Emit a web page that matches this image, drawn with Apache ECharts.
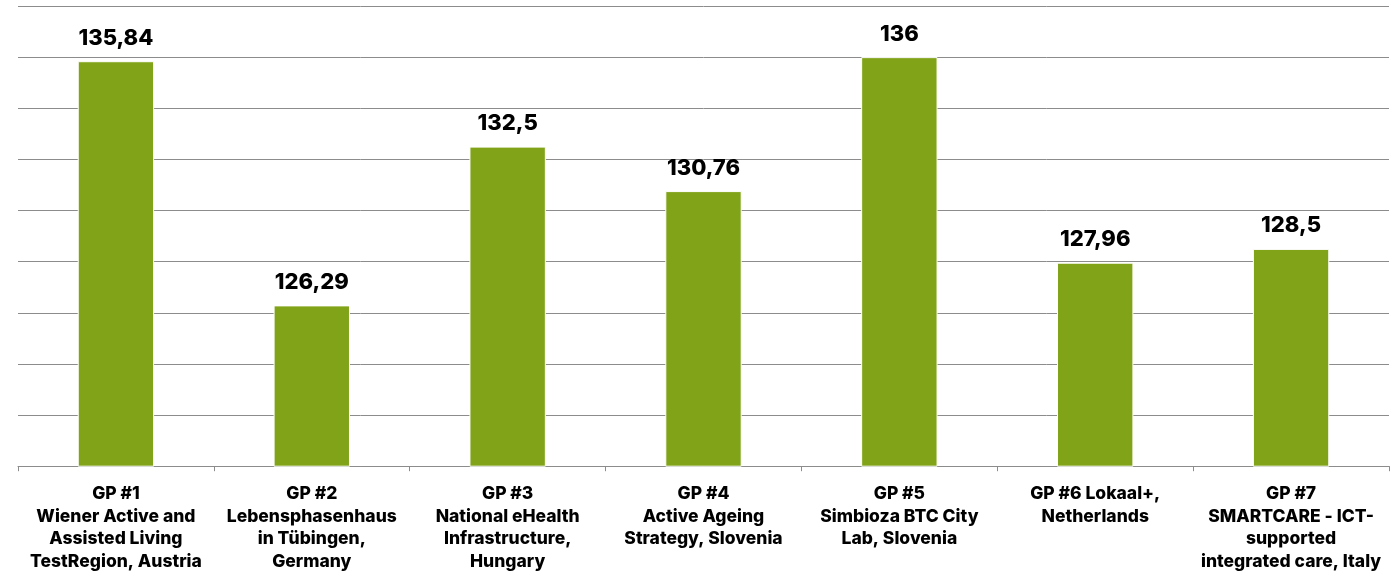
<!DOCTYPE html>
<html>
<head>
<meta charset="utf-8">
<script src="https://cdn.jsdelivr.net/npm/echarts@6/dist/echarts.min.js"></script>
<style>
  html, body { margin: 0; padding: 0; background: #fff; }
  #chart { width: 1393px; height: 573px; }
</style>
</head>
<body>
<div id="chart"></div>
<script>
// categories (line breaks as in the original)
var categories = [
  'GP #1\nWiener Active and\nAssisted Living\nTestRegion, Austria',
  'GP #2\nLebensphasenhaus\nin Tübingen,\nGermany',
  'GP #3\nNational eHealth\nInfrastructure,\nHungary',
  'GP #4\nActive Ageing\nStrategy, Slovenia',
  'GP #5\nSimbioza BTC City\nLab, Slovenia',
  'GP #6 Lokaal+,\nNetherlands',
  'GP #7\nSMARTCARE - ICT-\nsupported\nintegrated care, Italy'
];
var values = [135.84, 126.29, 132.5, 130.76, 136, 127.96, 128.5];
var yMin = 120;
var yMax = 138;
var yStep = 2;

var chart = echarts.init(document.getElementById('chart'));
chart.setOption({
  animation: false,
  grid: { left: 18, right: 4, top: 6, bottom: 104, containLabel: false },
  xAxis: {
    type: 'category',
    data: categories,
    axisLine: { lineStyle: { color: '#8c8c8c', width: 1 } },
    axisTick: { show: true, length: 5, lineStyle: { color: '#8c8c8c' } },
    axisLabel: {
      interval: 0,
      margin: 16,
      color: '#000',
      fontFamily: 'Inter',
      fontWeight: 800,
      fontSize: 17.5,
      lineHeight: 22.7,
      align: 'center'
    }
  },
  yAxis: {
    type: 'value',
    min: yMin,
    max: yMax,
    interval: yStep,
    axisLine: { show: false },
    axisTick: { show: false },
    axisLabel: { show: false },
    splitLine: { lineStyle: { color: '#8c8c8c', width: 1 } }
  },
  series: [{
    type: 'bar',
    data: values,
    barWidth: '39%',
    itemStyle: { color: '#80a317', borderColor: '#fff', borderWidth: 1 },
    label: {
      show: true,
      position: 'top',
      distance: 12,
      color: '#000',
      fontFamily: 'Inter',
      fontWeight: 800,
      fontSize: 22,
      formatter: function (p) { return String(p.value).replace('.', ','); }
    }
  }]
});
</script>
</body>
</html>
